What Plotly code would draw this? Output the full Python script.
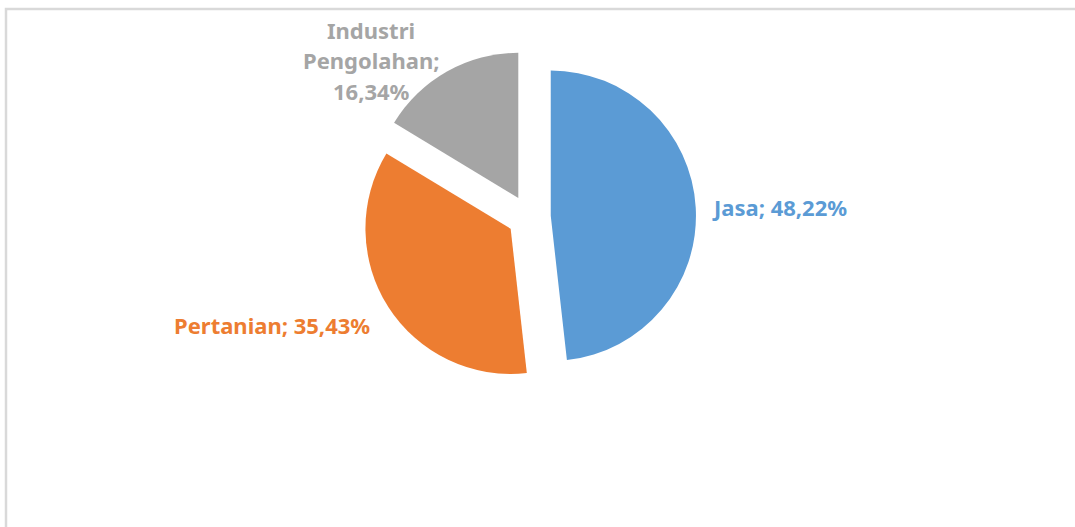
import plotly.graph_objects as go

# Sector shares of regional GDP (%)
sectors = ["Jasa", "Pertanian", "Industri Pengolahan"]
shares = [48.22, 35.43, 16.34]
colors = ["#5B9BD5", "#ED7D31", "#A5A5A5"]

W, H = 1075, 527


def fmt_pct(v):
    return f"{v:.2f}".replace(".", ",") + "%"


fig = go.Figure(
    go.Pie(
        labels=sectors,
        values=shares,
        sort=False,
        direction="clockwise",
        rotation=0,
        pull=[0.15, 0.15, 0.15],
        marker=dict(colors=colors, line=dict(width=0)),
        textinfo="none",
        hoverinfo="label+percent",
        showlegend=False,
        domain=dict(x=[362.0 / W, 696.0 / W], y=[143.0 / H, 477.0 / H]),
    )
)

font_family = "Noto Sans"
font_size = 22

annotations = []
# Jasa label, to the right of the pie
annotations.append(dict(
    text=f"{sectors[0]}; {fmt_pct(shares[0])}",
    x=710 / W, y=1 - 207 / H, xanchor="left", yanchor="middle",
))
# Pertanian label, lower left
annotations.append(dict(
    text=f"{sectors[1]}; {fmt_pct(shares[1])}",
    x=372 / W, y=1 - 325 / H, xanchor="right", yanchor="middle",
))
# Industri Pengolahan label, stacked over three lines
words = sectors[2].split(" ")
lines = [words[0], words[1] + ";", fmt_pct(shares[2])]
for i, line in enumerate(lines):
    annotations.append(dict(
        text=line,
        x=371 / W, y=1 - (30 + 30.5 * i) / H, xanchor="center", yanchor="middle",
    ))

label_colors = [colors[0], colors[1]] + [colors[2]] * 3
for a, c in zip(annotations, label_colors):
    a.update(xref="paper", yref="paper", showarrow=False,
             font=dict(family=font_family, size=font_size, color=c, weight="bold"))

fig.update_layout(
    width=W, height=H,
    margin=dict(l=0, r=0, t=0, b=0),
    paper_bgcolor="white",
    plot_bgcolor="white",
    annotations=annotations,
    shapes=[dict(
        type="rect", xref="paper", yref="paper",
        x0=6 / W, x1=1.05, y0=-0.1, y1=1 - 9 / H,
        line=dict(color="#D9D9D9", width=2.5),
        fillcolor="rgba(0,0,0,0)",
        layer="below",
    )],
)

fig.write_html("out.html")
